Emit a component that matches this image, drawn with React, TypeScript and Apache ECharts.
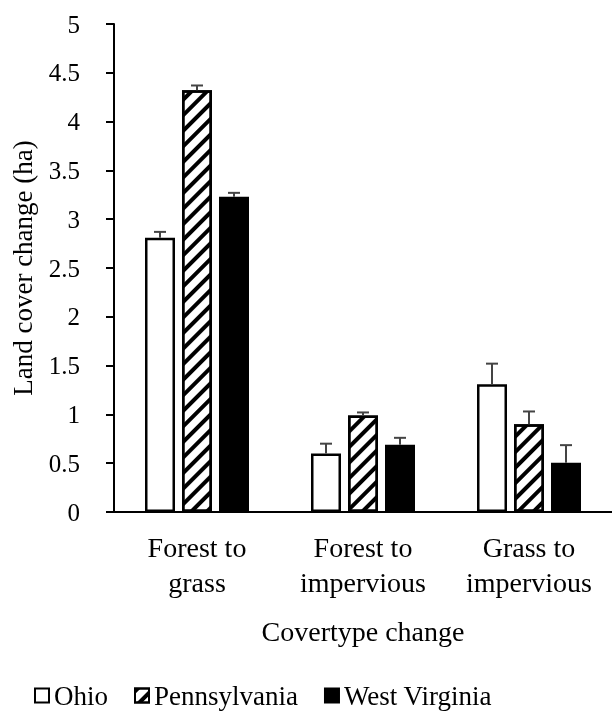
import React, { useEffect, useRef } from "react";
import * as echarts from "echarts";

const categories = ["Forest to\ngrass", "Forest to\nimpervious", "Grass to\nimpervious"];
const seriesNames = ["Ohio", "Pennsylvania", "West Virginia"];
const ohioValues = [2.81, 0.6, 1.31];
const pennsylvaniaValues = [4.32, 0.99, 0.9];
const westVirginiaValues = [3.23, 0.69, 0.505];
const ohioErrors = [0.06, 0.1, 0.21];
const pennsylvaniaErrors = [0.05, 0.03, 0.13];
const westVirginiaErrors = [0.04, 0.07, 0.18];
const yTicks = [0, 0.5, 1, 1.5, 2, 2.5, 3, 3.5, 4, 4.5, 5];

const FONT = "'Liberation Serif', 'Times New Roman', serif";
const BAR_W = 30;
const BAR_GAP = 7;

export default function App() {
  const ref = useRef<HTMLDivElement>(null);
  useEffect(() => {
    if (!ref.current) return;
    const chart = echarts.init(ref.current, undefined, { renderer: "svg" });
    const values = [ohioValues, pennsylvaniaValues, westVirginiaValues];
    const errors = [ohioErrors, pennsylvaniaErrors, westVirginiaErrors];
    const styles: any[] = [
      { color: "#ffffff", borderColor: "#000", borderWidth: 2.5 },
      {
        color: "#ffffff",
        borderColor: "#000",
        borderWidth: 2.5,
        decal: {
          symbol: "rect",
          symbolSize: 1,
          dashArrayX: [1, 0],
          dashArrayY: [4, 7],
          rotation: -Math.PI / 4,
          color: "#000",
        },
      },
      { color: "#000000", borderColor: "#000", borderWidth: 2.5 },
    ];
    const barSeries = seriesNames.map((name, i) => ({
      name,
      type: "bar",
      data: values[i],
      barWidth: BAR_W,
      barGap: `${(BAR_GAP / BAR_W) * 100}%`,
      itemStyle: styles[i],
      z: 2,
    }));
    const errSeries = seriesNames.map((name, i) => ({
      name: name + " error",
      type: "custom",
      z: 5,
      data: values[i].map((v, j) => [j, v, v + errors[i][j]]),
      renderItem: (params: any, api: any) => {
        const c = api.value(0);
        const lo = api.coord([c, api.value(1)]);
        const hi = api.coord([c, api.value(2)]);
        const off = (i - 1) * (BAR_W + BAR_GAP);
        const x = lo[0] + off;
        const capHalf = 6;
        return {
          type: "group",
          children: [
            { type: "line", shape: { x1: x, y1: lo[1], x2: x, y2: hi[1] }, style: { stroke: "#444", lineWidth: 2 } },
            { type: "line", shape: { x1: x - capHalf, y1: hi[1], x2: x + capHalf, y2: hi[1] }, style: { stroke: "#444", lineWidth: 2 } },
          ],
        };
      },
    }));
    chart.setOption({
      animation: false,
      grid: { left: 114, right: -4, top: 24, bottom: 211 },
      xAxis: {
        type: "category",
        data: categories,
        axisLine: { lineStyle: { color: "#000", width: 2 } },
        axisTick: { show: false },
        axisLabel: { color: "#000", fontFamily: FONT, fontSize: 28, lineHeight: 35, margin: 18, interval: 0 },
        name: "Covertype change",
        nameLocation: "middle",
        nameGap: 105,
        nameTextStyle: { color: "#000", fontFamily: FONT, fontSize: 28 },
      },
      yAxis: {
        type: "value",
        min: 0,
        max: 5,
        interval: 0.5,
        splitLine: { show: false },
        axisLine: { show: true, lineStyle: { color: "#000", width: 2 } },
        axisTick: { show: true, length: 8, lineStyle: { color: "#000", width: 2 } },
        axisLabel: {
          color: "#000",
          fontFamily: FONT,
          fontSize: 25,
          margin: 34,
          formatter: (v: number) => (yTicks.includes(v) ? String(v) : ""),
        },
        name: "Land cover change (ha)",
        nameLocation: "middle",
        nameGap: 78,
        nameTextStyle: { color: "#000", fontFamily: FONT, fontSize: 27 },
      },
      legend: {
        data: seriesNames,
        left: 29,
        top: 677,
        itemWidth: 14,
        itemHeight: 14,
        itemGap: 26,
        icon: "rect",
        textStyle: { color: "#000", fontFamily: FONT, fontSize: 27 },
      },
      series: [...barSeries, ...errSeries],
    });
    return () => chart.dispose();
  }, []);
  return <div ref={ref} style={{ position: "fixed", left: 0, top: 0, width: 612, height: 723 }} />;
}
